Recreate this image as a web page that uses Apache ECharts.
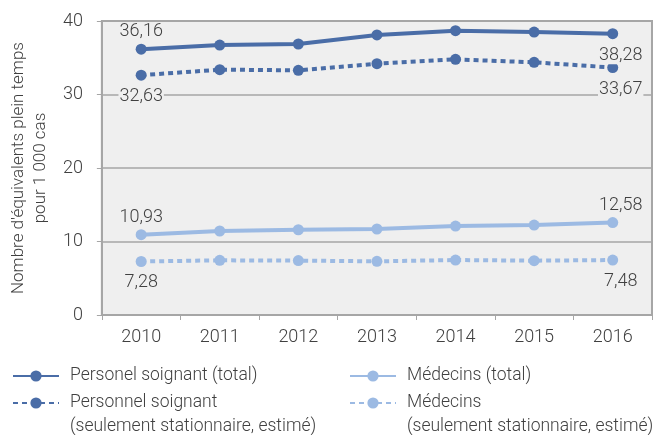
<!DOCTYPE html>
<html>
<head>
<meta charset="utf-8">
<script src="https://cdn.jsdelivr.net/npm/echarts@6/dist/echarts.min.js"></script>
<style>
  html, body { margin: 0; padding: 0; background: #fff; }
  #chart { width: 655px; height: 435px; }
</style>
</head>
<body>
<div id="chart"></div>
<script>
// données
var years = ['2010', '2011', '2012', '2013', '2014', '2015', '2016']
var soignantTotal = [36.16, 36.73, 36.87, 38.1, 38.68, 38.5, 38.28]
var soignantStat = [32.63, 33.38, 33.29, 34.19, 34.78, 34.38, 33.67]
var medecinsTotal = [10.93, 11.43, 11.6, 11.7, 12.1, 12.24, 12.58]
var medecinsStat = [7.28, 7.44, 7.4, 7.3, 7.48, 7.39, 7.48]
var yTicks = [0, 10, 20, 30, 40]

var names = [
  'Personel soignant (total)',
  'Personnel soignant\n(seulement stationnaire, estimé)',
  'Médecins (total)',
  'Médecins\n(seulement stationnaire, estimé)'
]

var dark = '#4a6da7'
var light = '#9cbae3'
var txt = '#404040'
var font = 'Roboto'

function fmt(v) {
  return v.toFixed(2).replace('.', ',')
}

// only first and last points get a label, pos = [first, last]
function withLabels(values, pos) {
  var last = values.length - 1
  return values.map(function (v, i) {
    if (i !== 0 && i !== last) return v
    var p = i === 0 ? pos[0] : pos[1]
    return {
      value: v,
      label: {
        show: true,
        position: p,
        distance: p === 'top' ? 3 : 7,
        offset: i === last ? [8, 0] : [0, 0],
        formatter: function (d) { return fmt(d.value) },
        color: txt,
        fontFamily: font,
        fontWeight: 300,
        fontSize: 18,
        backgroundColor: '#efefef',
        padding: [0, 1]
      }
    }
  })
}

function makeSeries(name, values, color, dotted, pos) {
  return {
    name: name,
    type: 'line',
    data: withLabels(values, pos),
    symbol: 'circle',
    symbolSize: 11,
    color: color,
    itemStyle: { color: color },
    lineStyle: { color: color, width: 4, type: dotted ? [5, 4] : 'solid' },
    label: { show: false },
    z: dotted ? 3 : 4
  }
}

function makeLegend(name, left, top) {
  return {
    data: [name],
    left: left,
    top: top,
    padding: 0,
    itemWidth: 46,
    itemHeight: 14,
    // two-line names: blank first line so the icon sits on the title line
    formatter: function (n) { return n.indexOf('\n') >= 0 ? '\n' + n : n },
    textStyle: {
      color: txt,
      fontFamily: font,
      fontWeight: 300,
      fontSize: 17.5,
      lineHeight: 24,
      padding: [0, 0, 0, 6]
    }
  }
}

var chart = echarts.init(document.getElementById('chart'))
chart.setOption({
  animation: false,
  backgroundColor: '#fff',
  grid: {
    left: 96,
    right: 3,
    top: 21,
    bottom: 120,
    show: true,
    backgroundColor: '#efefef',
    borderColor: '#a6a6a6',
    borderWidth: 2
  },
  legend: [
    makeLegend(names[0], 12, 364),
    makeLegend(names[1], 12, 367),
    makeLegend(names[2], 349, 364),
    makeLegend(names[3], 349, 367)
  ],
  xAxis: {
    type: 'category',
    data: years,
    boundaryGap: true,
    axisLine: { lineStyle: { color: '#a6a6a6', width: 2 } },
    axisTick: { show: true, length: 5, lineStyle: { color: '#a6a6a6' } },
    axisLabel: { color: txt, fontFamily: font, fontWeight: 300, fontSize: 18, margin: 13 }
  },
  yAxis: {
    type: 'value',
    min: yTicks[0],
    max: yTicks[yTicks.length - 1],
    interval: 10,
    name: "Nombre d'équivalents plein temps\npour 1 000 cas",
    nameLocation: 'middle',
    nameRotate: 90,
    nameGap: 48,
    nameTextStyle: { color: txt, fontFamily: font, fontWeight: 300, fontSize: 17, lineHeight: 22 },
    axisLine: { show: true, lineStyle: { color: '#a6a6a6', width: 2 } },
    axisTick: { show: true, length: 5, lineStyle: { color: '#a6a6a6' } },
    axisLabel: { color: txt, fontFamily: font, fontWeight: 300, fontSize: 18, margin: 19 },
    splitLine: { lineStyle: { color: '#a6a6a6', width: 1.5 } }
  },
  series: [
    makeSeries(names[0], soignantTotal, dark, false, ['top', 'bottom']),
    makeSeries(names[1], soignantStat, dark, true, ['bottom', 'bottom']),
    makeSeries(names[2], medecinsTotal, light, false, ['top', 'top']),
    makeSeries(names[3], medecinsStat, light, true, ['bottom', 'bottom'])
  ]
})
</script>
</body>
</html>
